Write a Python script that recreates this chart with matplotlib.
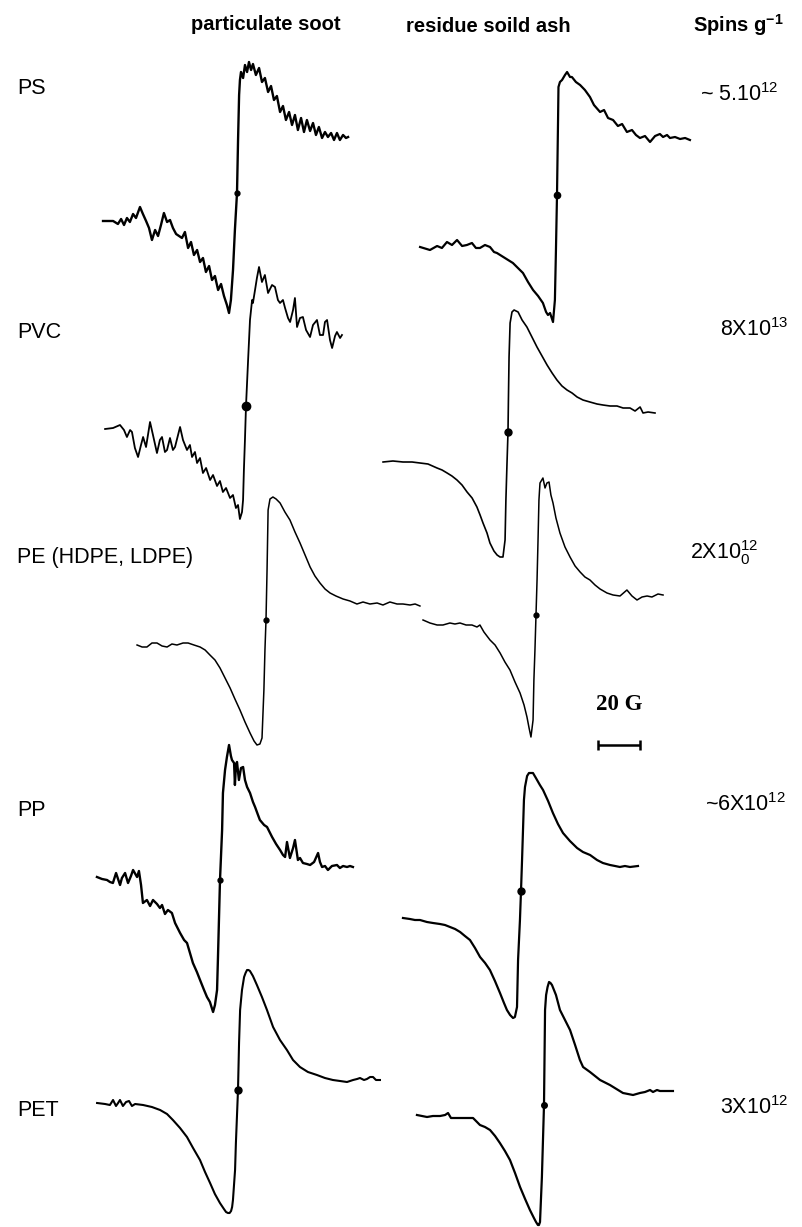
import matplotlib
matplotlib.use("Agg")
import matplotlib.pyplot as plt

# EPR spectra, field offset from line centre (G) and signal (arbitrary units)
ps_soot_field = [-63.8, -59.0, -56.7, -55.2, -53.8, -52.4, -51.0, -49.5, -48.1, -46.2, -44.8, -43.3,
                 -41.9, -40.5, -39.0, -37.6, -36.2, -34.8, -33.3, -31.9, -30.5, -29.0, -27.6, -26.2,
                 -24.8, -23.3, -21.9, -20.5, -19.0, -17.6, -16.2, -14.8, -13.3, -11.9, -10.5, -9.0,
                 -7.6, -6.2, -4.8, -3.8, -2.9, -1.9, -1.0, 0.0, 0.5, 1.0, 1.4, 1.9, 2.9, 3.8, 4.8,
                 5.7, 6.7, 7.6, 9.0, 10.5, 11.9, 13.3, 14.8, 16.2, 17.6, 19.0, 20.5, 21.9, 23.3,
                 24.8, 26.2, 27.6, 29.0, 30.5, 31.9, 33.3, 34.8, 36.2, 37.6, 39.0, 40.5, 41.9,
                 43.3, 44.8, 46.2, 47.6, 49.0, 50.5, 51.9, 52.9]
ps_soot_signal = [-28, -28, -31, -26, -32, -25, -29, -21, -25, -14, -21, -28, -35, -47, -37, -43,
                  -32, -20, -29, -27, -35, -41, -43, -45, -39, -55, -49, -62, -57, -69, -65, -79,
                  -73, -87, -83, -97, -91, -103, -112, -120, -107, -77, -37, 0, 53, 98, 113, 121,
                  115, 128, 121, 131, 123, 129, 118, 125, 111, 115, 101, 107, 93, 97, 81, 87, 73,
                  81, 68, 78, 63, 75, 61, 73, 62, 70, 58, 66, 55, 61, 56, 60, 53, 60, 53, 58, 55, 56]

ps_ash_field = [-65.2, -60.5, -57.1, -54.8, -52.4, -50.0, -47.6, -45.2, -42.9, -40.5, -38.6, -36.7,
                -34.3, -31.9, -30.0, -28.6, -24.8, -21.0, -18.6, -16.2, -13.8, -11.4, -9.0, -6.7,
                -5.2, -4.3, -3.3, -1.9, -1.0, -0.5, 0.0, 0.5, 0.7, 1.4, 2.4, 3.8, 4.8, 6.2, 7.1,
                9.0, 11.0, 13.3, 15.7, 17.6, 20.5, 22.4, 24.3, 26.7, 29.0, 31.0, 33.3, 35.7, 37.6,
                39.5, 41.9, 44.3, 46.7, 49.0, 50.5, 52.4, 53.8, 56.2, 58.6, 61.0, 63.3]
ps_ash_signal = [-52, -55, -51, -53, -47, -50, -45, -51, -50, -48, -53, -53, -50, -52, -57, -58,
                 -63, -68, -73, -78, -87, -95, -101, -108, -117, -120, -118, -127, -105, -55, 0,
                 75, 108, 113, 115, 120, 123, 118, 118, 113, 110, 105, 98, 90, 83, 85, 77, 75, 69,
                 71, 63, 65, 60, 57, 59, 53, 59, 61, 58, 60, 57, 58, 56, 57, 55]

pvc_soot_field = [-67.1, -63.3, -60.0, -58.1, -56.7, -55.2, -54.3, -52.9, -51.4, -50.0, -49.0,
                  -47.6, -45.7, -44.3, -42.4, -41.0, -40.0, -38.6, -37.6, -36.2, -34.8, -33.8,
                  -31.4, -30.0, -28.1, -26.7, -25.7, -24.3, -23.3, -21.9, -20.5, -19.0, -17.1,
                  -15.7, -13.8, -12.4, -11.0, -9.5, -7.6, -6.2, -4.8, -3.8, -2.9, -1.9, -1.4,
                  -1.0, -0.5, 0.0, 1.0, 1.9, 2.9, 3.3, 4.3, 5.2, 6.2, 7.6, 9.0, 10.5, 12.4, 13.8,
                  15.2, 16.2, 17.6, 18.6, 20.0, 21.0, 22.4, 23.3, 24.3, 25.7, 27.1, 28.6, 30.5,
                  31.9, 33.8, 35.2, 36.7, 37.6, 38.6, 40.0, 41.0, 42.4, 43.3, 44.8, 45.7]
pvc_soot_signal = [-23, -22, -19, -24, -31, -24, -26, -42, -51, -39, -31, -41, -16, -29, -47, -34,
                   -31, -46, -44, -32, -44, -41, -21, -34, -44, -39, -51, -46, -57, -52, -67, -62,
                   -74, -69, -80, -75, -86, -82, -92, -89, -102, -99, -113, -106, -94, -64, -34, 0,
                   46, 86, 106, 103, 116, 128, 139, 124, 131, 113, 121, 119, 106, 103, 106, 98, 88,
                   84, 96, 108, 79, 88, 89, 76, 69, 81, 86, 71, 71, 84, 86, 66, 58, 70, 74, 68, 71]

pvc_ash_field = [-59.5, -54.8, -50.0, -45.7, -41.9, -38.1, -33.8, -31.4, -29.0, -26.7, -24.3,
                 -21.9, -19.5, -17.1, -14.8, -13.3, -11.9, -10.0, -8.6, -6.7, -5.2, -3.8, -2.4,
                 -1.4, -1.0, -0.5, 0.0, 0.2, 0.5, 1.0, 1.9, 2.9, 4.8, 6.7, 9.0, 11.4, 13.8, 16.2,
                 18.6, 21.0, 23.3, 25.7, 28.1, 30.5, 32.9, 35.7, 39.0, 42.4, 45.2, 48.6, 51.9,
                 54.8, 58.1, 60.5, 62.9, 64.3, 66.7, 70.0]
pvc_ash_signal = [-30, -29, -30, -30, -31, -32, -36, -38, -41, -44, -48, -53, -60, -66, -75, -83,
                  -91, -101, -111, -119, -123, -125, -125, -108, -68, -33, 0, 32, 75, 109, 120,
                  122, 120, 112, 105, 95, 85, 76, 67, 59, 52, 46, 42, 39, 35, 32, 30, 28, 27, 26,
                  26, 24, 24, 21, 25, 19, 20, 19]

pe_soot_field = [-61.4, -59.0, -56.7, -54.3, -51.9, -49.5, -47.1, -44.8, -42.4, -39.5, -37.1,
                 -34.3, -31.4, -29.0, -26.7, -24.3, -21.9, -19.5, -17.1, -14.8, -12.4, -10.0,
                 -7.6, -5.7, -4.3, -2.9, -1.9, -1.0, -0.5, 0.0, 0.5, 1.0, 1.9, 3.3, 4.8, 6.7,
                 9.0, 11.4, 13.8, 16.2, 18.6, 21.0, 23.3, 25.7, 28.1, 30.5, 33.3, 36.7, 40.0,
                 43.3, 46.2, 49.5, 52.9, 55.7, 59.0, 62.4, 65.2, 68.6, 71.0, 73.3]
pe_soot_signal = [-25, -27, -27, -23, -23, -26, -27, -24, -25, -23, -23, -25, -27, -30, -35, -40,
                  -48, -58, -68, -79, -90, -102, -113, -121, -125, -124, -118, -70, -30, 0, 50,
                  110, 121, 123, 121, 117, 108, 100, 88, 77, 65, 53, 44, 37, 31, 27, 24, 21, 19,
                  16, 18, 16, 17, 15, 18, 16, 16, 15, 16, 14]

pe_ash_field = [-53.8, -50.5, -47.1, -44.3, -41.0, -38.6, -36.2, -33.3, -30.5, -28.1, -26.7,
                -24.8, -21.9, -19.5, -17.1, -14.8, -12.4, -10.0, -7.6, -5.7, -4.3, -3.3, -2.4,
                -1.4, -1.0, -0.5, 0.0, 0.5, 1.0, 1.4, 1.9, 3.3, 4.3, 5.2, 6.2, 7.1, 8.1, 9.5,
                11.4, 13.8, 16.2, 18.6, 21.0, 23.3, 25.7, 28.1, 30.5, 33.8, 36.7, 40.0, 43.3,
                45.7, 48.1, 50.5, 52.9, 55.2, 58.1, 60.5]
pe_ash_signal = [-5, -8, -10, -10, -8, -9, -8, -10, -10, -12, -10, -17, -25, -30, -38, -47, -55,
                 -67, -78, -90, -102, -113, -122, -105, -65, -35, 0, 35, 78, 115, 132, 137, 127,
                 132, 133, 120, 112, 97, 82, 68, 58, 49, 43, 38, 35, 30, 26, 22, 20, 19, 25, 19,
                 15, 18, 19, 18, 21, 20]

pp_soot_field = [-58.6, -56.2, -53.8, -52.4, -51.0, -49.5, -47.6, -46.7, -45.2, -43.8, -42.4,
                 -41.4, -39.5, -38.6, -37.6, -36.7, -34.8, -33.3, -31.9, -30.0, -28.6, -27.6,
                 -26.2, -24.8, -22.9, -21.4, -19.0, -17.1, -15.7, -14.3, -12.9, -11.0, -9.5,
                 -7.6, -6.2, -4.8, -3.3, -2.4, -1.4, -1.0, -0.5, 0.0, 1.0, 1.4, 2.4, 3.3, 4.3,
                 5.2, 5.7, 6.7, 7.1, 7.6, 8.1, 9.0, 10.0, 11.0, 11.9, 12.9, 14.3, 15.7, 16.7,
                 18.1, 19.0, 21.0, 22.4, 24.8, 26.7, 28.6, 30.0, 31.0, 31.9, 33.3, 34.8, 35.7,
                 37.1, 38.1, 39.5, 41.4, 42.9, 44.8, 46.7, 47.6, 48.6, 50.0, 51.4, 53.3, 55.7,
                 57.1, 58.6, 60.5, 61.9, 63.3]
pp_soot_signal = [3, 1, 0, -2, -3, 7, -5, 2, 7, -3, 4, 10, 3, 9, -5, -23, -20, -26, -20, -24,
                  -28, -25, -34, -30, -33, -43, -53, -60, -63, -73, -83, -92, -100, -110, -117,
                  -122, -132, -125, -110, -80, -40, 0, 50, 87, 110, 123, 135, 124, 120, 117, 95,
                  115, 118, 100, 112, 113, 100, 93, 87, 78, 73, 65, 60, 55, 53, 43, 36, 30, 25,
                  23, 38, 22, 32, 40, 20, 22, 17, 16, 15, 18, 27, 18, 13, 14, 10, 14, 15, 12, 14,
                  13, 14, 13]

pp_ash_field = [-56.2, -52.9, -50.5, -48.1, -44.8, -41.9, -38.6, -36.2, -33.8, -31.4, -29.0,
                -26.7, -24.3, -21.9, -19.5, -17.1, -14.8, -12.4, -10.0, -8.1, -6.7, -5.2, -3.8,
                -2.9, -1.9, -1.4, -0.5, 0.0, 0.5, 1.0, 1.4, 1.9, 2.9, 3.8, 5.7, 7.1, 9.0, 10.5,
                12.9, 15.2, 17.6, 20.0, 23.3, 26.7, 29.5, 32.9, 36.2, 39.0, 42.4, 44.8, 47.1,
                49.5, 51.9, 55.7]
pp_ash_signal = [-27, -28, -29, -29, -31, -32, -33, -34, -36, -38, -41, -45, -49, -57, -66, -72,
                 -79, -90, -102, -112, -119, -124, -127, -126, -116, -69, -29, 0, 31, 64, 91,
                 104, 115, 118, 118, 113, 106, 101, 90, 78, 67, 58, 50, 43, 39, 36, 31, 28, 26,
                 25, 24, 25, 24, 25]

pet_soot_field = [-67.1, -63.3, -61.0, -59.5, -58.1, -57.1, -56.2, -54.8, -53.3, -51.9, -50.5,
                  -49.0, -45.2, -41.0, -37.1, -33.8, -31.0, -27.6, -24.3, -21.4, -18.1, -15.7,
                  -13.3, -11.0, -8.6, -6.7, -5.7, -4.8, -4.0, -3.3, -2.8, -2.4, -1.4, -1.0, 0.0,
                  0.5, 1.0, 1.9, 2.9, 3.6, 4.3, 5.0, 5.7, 7.1, 9.0, 11.4, 13.8, 16.7, 20.0, 23.3,
                  26.2, 29.5, 33.3, 37.6, 41.4, 45.2, 48.6, 51.9, 54.8, 56.7, 58.1, 60.0, 61.4,
                  62.9, 64.3, 65.7, 67.6]
pet_soot_signal = [-13, -14, -15, -10, -16, -13, -10, -16, -12, -11, -16, -14, -15, -17, -20,
                   -24, -30, -38, -47, -58, -70, -82, -93, -104, -113, -119, -122, -123, -123,
                   -121, -117, -110, -80, -53, 0, 47, 80, 100, 113, 117, 120, 120, 119, 114, 105,
                   93, 80, 63, 50, 40, 30, 23, 18, 15, 12, 10, 9, 8, 10, 11, 12, 10, 11, 13, 13,
                   10, 10]

pet_ash_field = [-60.5, -55.7, -52.9, -49.5, -47.1, -45.7, -44.3, -41.0, -37.1, -33.8, -31.9,
                 -30.5, -28.1, -25.7, -23.3, -21.0, -18.6, -16.2, -13.8, -11.4, -9.0, -6.7,
                 -4.8, -3.8, -2.9, -2.4, -1.9, -1.0, 0.0, 0.5, 1.0, 1.7, 2.4, 3.1, 3.8, 5.7, 7.6,
                 10.0, 12.4, 14.8, 17.1, 18.6, 21.9, 26.7, 31.4, 37.6, 40.0, 42.4, 45.7, 48.1,
                 50.5, 51.9, 53.8, 55.2, 58.6, 61.4]
pet_ash_signal = [-10, -12, -11, -11, -10, -8, -13, -13, -13, -13, -17, -20, -22, -25, -31, -38,
                  -46, -55, -68, -82, -94, -105, -113, -117, -120, -120, -117, -72, 0, 95, 110,
                  118, 123, 122, 120, 110, 95, 85, 75, 60, 45, 38, 33, 25, 20, 12, 11, 10, 12,
                  13, 15, 13, 15, 14, 14, 14]

# labels
row_labels = ["PS", "PVC", "PE (HDPE, LDPE)", "PP", "PET"]
spin_labels = ["~ 5.10$^{12}$", "8X10$^{13}$", "2X10$_0^{12}$", "~6X10$^{12}$", "3X10$^{12}$"]
col_labels = ["particulate soot", "residue soild ash", r"Spins g$^{\mathbf{-1}}$"]
scale_gauss = 20

# layout (pixels of the original figure)
W, H = 802, 1227
PX_PER_G = 2.1
soot_centres = [(237, 193), (246, 406), (266, 620), (220, 880), (238, 1090)]
ash_centres = [(557, 195), (508, 432), (536, 615), (521, 891), (544, 1105)]
row_label_y = [88, 333, 557, 810, 1110]
spin_label_pos = [(700, 95), (720, 330), (690, 553), (705, 805), (720, 1108)]
col_label_pos = [(266, 25), (488, 27), (738, 25)]

plt.rcParams["font.family"] = "Liberation Sans"
plt.rcParams["mathtext.fontset"] = "custom"
plt.rcParams["mathtext.rm"] = "Liberation Sans"
plt.rcParams["mathtext.bf"] = "Liberation Sans:bold"
plt.rcParams["mathtext.it"] = "Liberation Sans:italic"
plt.rcParams["mathtext.default"] = "regular"

fig = plt.figure(figsize=(W / 100, H / 100), dpi=100)


def trace_axes(cx, cy, half_g=80, half_s=160):
    hw = half_g * PX_PER_G
    ax = fig.add_axes([(cx - hw) / W, 1 - (cy + half_s) / H, 2 * hw / W, 2 * half_s / H])
    ax.set_xlim(-half_g, half_g)
    ax.set_ylim(-half_s, half_s)
    ax.axis("off")
    ax.patch.set_alpha(0)
    return ax


soot = [(ps_soot_field, ps_soot_signal, 1.7, 3.5), (pvc_soot_field, pvc_soot_signal, 1.3, 6),
        (pe_soot_field, pe_soot_signal, 1.1, 3.5), (pp_soot_field, pp_soot_signal, 1.7, 3.5),
        (pet_soot_field, pet_soot_signal, 1.5, 5)]
ash = [(ps_ash_field, ps_ash_signal, 1.6, 4.5), (pvc_ash_field, pvc_ash_signal, 1.2, 5),
       (pe_ash_field, pe_ash_signal, 1.1, 3.5), (pp_ash_field, pp_ash_signal, 1.6, 5),
       (pet_ash_field, pet_ash_signal, 1.6, 4)]

for centres, specs in [(soot_centres, soot), (ash_centres, ash)]:
    for (cx, cy), (field, signal, lw, ms) in zip(centres, specs):
        ax = trace_axes(cx, cy)
        ax.plot(field, signal, color="black", lw=lw, solid_joinstyle="round")
        i0 = field.index(0.0)
        ax.plot(field[i0], signal[i0], "o", color="black", ms=ms)

# 20 G scale bar
sb = trace_axes(598 + scale_gauss * PX_PER_G / 2, 745, half_g=20, half_s=20)
sb.hlines(0, -scale_gauss / 2, scale_gauss / 2, color="black", lw=1.8)
sb.vlines([-scale_gauss / 2, scale_gauss / 2], -5, 5, color="black", lw=1.8)
fig.text(619 / W, 1 - 705 / H, f"{scale_gauss} G", family="Liberation Serif", weight="bold",
         fontsize=16.5, ha="center", va="center")

for label, y in zip(row_labels, row_label_y):
    fig.text(17 / W, 1 - y / H, label, fontsize=15.5, ha="left", va="center")

for label, (x, y) in zip(spin_labels, spin_label_pos):
    fig.text(x / W, 1 - y / H, label, fontsize=15.5, ha="left", va="center")

for label, (x, y) in zip(col_labels, col_label_pos):
    fig.text(x / W, 1 - y / H, label, fontsize=14.5, weight="bold", ha="center", va="center")

fig.savefig("out.png", dpi=100)
